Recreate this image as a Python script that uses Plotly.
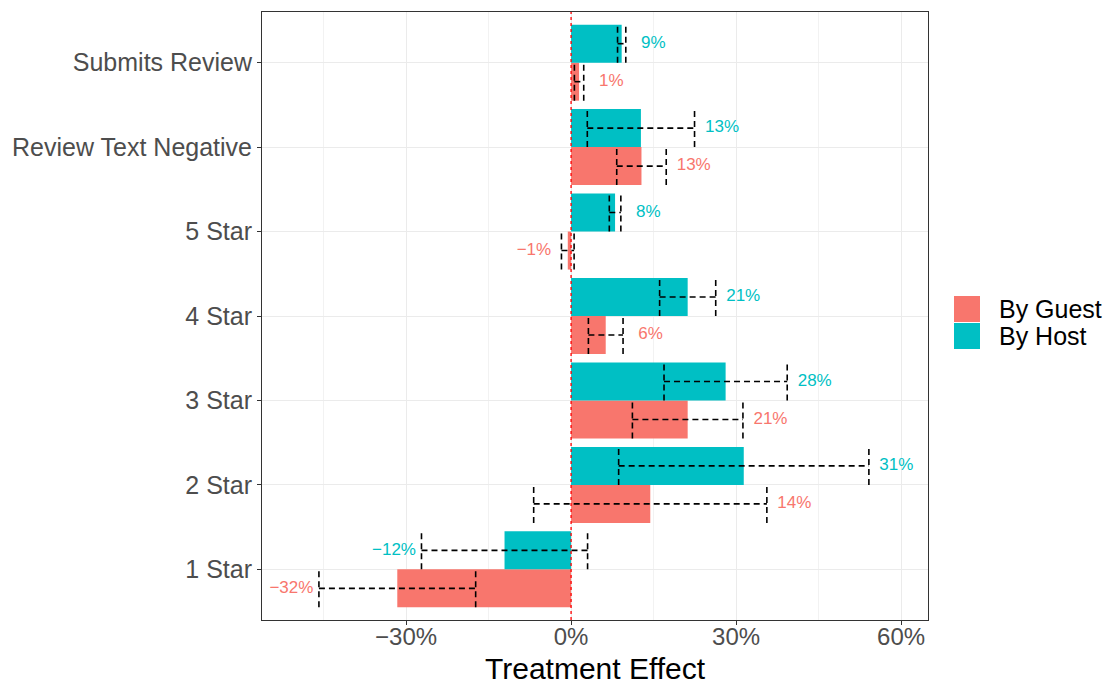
import plotly.graph_objects as go

# Outcomes, listed bottom to top on the y axis
outcomes = ["1 Star", "2 Star", "3 Star", "4 Star", "5 Star",
            "Review Text Negative", "Submits Review"]

# Treatment effects (%) and 95% CI half-widths (%)
host_effect = [-12.1, 31.4, 28.1, 21.2, 8.0, 12.7, 9.2]
host_ci = [15.1, 22.75, 11.2, 5.1, 1.05, 9.75, 0.75]
guest_effect = [-31.6, 14.4, 21.2, 6.3, -0.6, 12.8, 1.45]
guest_ci = [14.25, 21.2, 10.05, 3.15, 1.15, 4.5, 0.85]

GUEST_COL = "#F8766D"
HOST_COL = "#00BFC4"
FONT = "Liberation Sans, Arial, Helvetica, sans-serif"

W, H = 1111, 685
L, R, T, B = 262, 183, 12, 65
BAR_W = 0.45
XMIN, XMAX = -56.2, 64.9

pos = list(range(1, len(outcomes) + 1))


def pct(v):
    r = round(v)
    return ("\u2212" if r < 0 else "") + f"{abs(r)}%"


fig = go.Figure()


def add_series(name, effect, ci, offset, color):
    ys = [p + offset for p in pos]
    fig.add_trace(go.Bar(
        x=effect, y=ys, orientation="h", width=BAR_W, base=0,
        marker=dict(color=color, line=dict(width=0)),
        name=name, showlegend=False, hoverinfo="x+name"))
    # dashed error bars with full-height caps
    ex, ey = [], []
    for e, c, y in zip(effect, ci, ys):
        lo, hi = e - c, e + c
        h = BAR_W / 2
        ex += [lo, lo, None, lo, hi, None, hi, hi, None]
        ey += [y - h, y + h, None, y, y, None, y - h, y + h, None]
    fig.add_trace(go.Scatter(
        x=ex, y=ey, mode="lines",
        line=dict(color="black", width=1.6, dash="6px,4px"),
        showlegend=False, hoverinfo="skip"))
    # value labels placed beyond the CI end
    lx = [(e + c + 5) if e >= 0 else (e - c - 5) for e, c in zip(effect, ci)]
    fig.add_trace(go.Scatter(
        x=lx, y=ys, mode="text", text=[pct(e) for e in effect],
        textposition="middle center",
        textfont=dict(family=FONT, size=17, color=color),
        showlegend=False, hoverinfo="skip"))


add_series("By Guest", guest_effect, guest_ci, -BAR_W / 2, GUEST_COL)
add_series("By Host", host_effect, host_ci, BAR_W / 2, HOST_COL)

# dotted reference line at zero
fig.add_shape(type="line", x0=0, x1=0, y0=0, y1=1, xref="x", yref="paper",
              line=dict(color="red", width=1.3, dash="dot"), layer="above")

# legend drawn as keys + labels
pw, ph = W - L - R, H - T - B


def px_x(v):
    return (v - L) / pw


def px_y(v):
    return (H - B - v) / ph


legend_items = [("By Guest", GUEST_COL, 296, 322), ("By Host", HOST_COL, 323, 349)]
for label, col, y0, y1 in legend_items:
    fig.add_shape(type="rect", xref="paper", yref="paper",
                  x0=px_x(954), x1=px_x(980), y0=px_y(y1), y1=px_y(y0),
                  fillcolor=col, line=dict(width=0))
    fig.add_annotation(text=label, xref="paper", yref="paper",
                       x=px_x(997), y=px_y((y0 + y1) / 2),
                       xanchor="left", yanchor="middle", showarrow=False,
                       font=dict(family=FONT, size=25, color="black"))

# x axis title
fig.add_annotation(text="Treatment Effect", xref="paper", yref="paper",
                   x=0.5, y=px_y(668), xanchor="center", yanchor="middle",
                   showarrow=False, font=dict(family=FONT, size=30, color="black"))

fig.update_layout(
    width=W, height=H,
    margin=dict(l=L, r=R, t=T, b=B),
    paper_bgcolor="white", plot_bgcolor="white",
    barmode="overlay", showlegend=False,
    font=dict(family=FONT),
    xaxis=dict(
        range=[XMIN, XMAX], automargin=False,
        tickvals=[-30, 0, 30, 60],
        ticktext=["\u221230%", "0%", "30%", "60%"],
        tickfont=dict(size=24, color="#4D4D4D"),
        ticks="outside", ticklen=4, tickcolor="#333333", tickwidth=1,
        ticklabelstandoff=-9,
        showgrid=True, gridcolor="#EBEBEB", gridwidth=1.1,
        minor=dict(tickvals=[-45, -15, 15, 45], showgrid=True,
                   gridcolor="#F2F2F2", gridwidth=0.6, ticks=""),
        zeroline=False,
        showline=True, linecolor="#333333", linewidth=1, mirror=True,
    ),
    yaxis=dict(
        range=[0.4, len(outcomes) + 0.6], automargin=False,
        tickvals=pos, ticktext=outcomes,
        tickfont=dict(size=25, color="#4D4D4D"),
        ticks="outside", ticklen=4, tickcolor="#333333", tickwidth=1,
        showgrid=True, gridcolor="#EBEBEB", gridwidth=1.1,
        zeroline=False,
        showline=True, linecolor="#333333", linewidth=1, mirror=True,
    ),
)

fig.write_html("out.html")
